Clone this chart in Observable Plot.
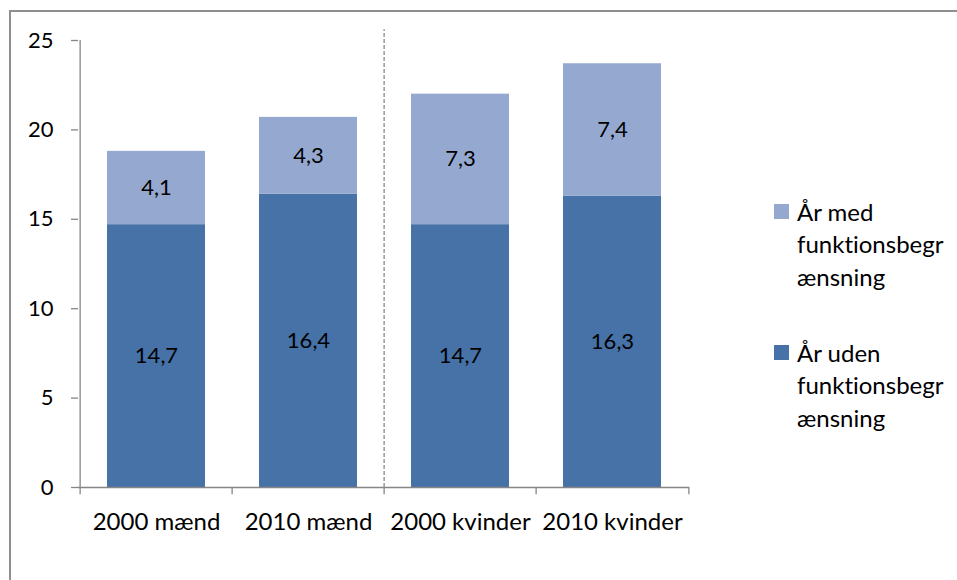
<!DOCTYPE html>
<html>
<head>
<meta charset="utf-8">
<script src="https://cdn.jsdelivr.net/npm/d3@7"></script>
<script src="https://cdn.jsdelivr.net/npm/@observablehq/plot@0.6"></script>
<style>
  html, body { margin: 0; padding: 0; background: #fff; overflow: hidden; }
  body { width: 957px; height: 580px; position: relative; font-family: Lato, "Open Sans", sans-serif; font-variant-ligatures: none; }
  #border { position: absolute; left: 9px; top: 10px; width: 1200px; height: 1000px; border-left: 2px solid #8f8f8f; border-top: 2px solid #8f8f8f; box-sizing: border-box; }
  #chart { position: absolute; left: 0; top: 0; }
  #chart svg text { font-variant-ligatures: none; }
  .leg { position: absolute; font-size: 24px; line-height: 32.5px; color: #000; white-space: nowrap; font-variant-ligatures: none; }
  .sw { position: absolute; width: 15px; height: 15px; }
</style>
</head>
<body>
<div id="border"></div>
<div id="chart"></div>
<div id="legend"></div>
<script>
const categories = ["2000 mænd", "2010 mænd", "2000 kvinder", "2010 kvinder"];
const seriesNames = ["År uden funktionsbegrænsning", "År med funktionsbegrænsning"];
const valuesUden = [14.7, 16.4, 14.7, 16.3];
const valuesMed = [4.1, 4.3, 7.3, 7.4];
const yTicks = [0, 5, 10, 15, 20, 25];
const seriesColors = ["#4672A8", "#95A9D0"];
const legendLines = [["År med", "funktionsbegr", "ænsning"], ["År uden", "funktionsbegr", "ænsning"]];
const dividerBefore = "2000 kvinder";

const rows = [];
categories.forEach((c, i) => {
  rows.push({cat: c, series: seriesNames[0], value: valuesUden[i]});
  rows.push({cat: c, series: seriesNames[1], value: valuesMed[i]});
});

const W = 700, H = 560, mL = 78, mR = 11, mT = 40, mB = 73;
const step = (W - mL - mR) / categories.length;
const fmt = v => d3.format(".1f")(v).replace(".", ",");
const axisColor = "#868686";

const plot = Plot.plot({
  width: W, height: H,
  marginLeft: mL, marginRight: mR, marginTop: mT, marginBottom: mB,
  style: {fontFamily: "Lato, 'Open Sans', sans-serif", fontSize: "22px", color: "#000", background: "transparent", overflow: "visible"},
  x: {domain: categories, paddingInner: 0.358, paddingOuter: 0.179, axis: null},
  y: {domain: [0, 25], axis: null},
  color: {domain: seriesNames, range: seriesColors},
  marks: [
    Plot.barY(rows, Plot.stackY({x: "cat", y: "value", fill: "series", order: null})),
    Plot.text(rows, Plot.stackY({x: "cat", y: "value", z: "series", text: d => fmt(d.value), fill: "#000", order: null})),
    // y axis line
    Plot.ruleX([categories[0]], {y1: 0, y2: 25, dx: -step / 2, stroke: axisColor, strokeWidth: 1.3}),
    Plot.axisY({ticks: yTicks, tickSize: 7, tickPadding: 18, label: null, stroke: axisColor, strokeOpacity: 1, strokeWidth: 1.3, tickFormat: d => String(d), fill: "#000"}),
    // x axis line
    Plot.ruleY([0], {stroke: axisColor, strokeWidth: 1.3}),
    // category boundary ticks
    Plot.ruleX(categories, {y1: 0, y2: -0.4, dx: -step / 2, stroke: axisColor, strokeWidth: 1.3}),
    Plot.ruleX([categories[categories.length - 1]], {y1: 0, y2: -0.4, dx: step / 2, stroke: axisColor, strokeWidth: 1.3}),
    // dashed divider
    Plot.ruleX([dividerBefore], {y1: 0, y2: 25.6, dx: -step / 2, stroke: "#8a8a8a", strokeWidth: 1.3, strokeDasharray: "4,2"}),
    // category labels
    Plot.text(categories, {x: d => d, y: 0, dy: 35, text: d => d, fill: "#000", fontSize: 24})
  ]
});
document.getElementById("chart").appendChild(plot);

// Legend
const legend = document.getElementById("legend");
const legendTops = [195.5, 336.5];
const legendOrder = [1, 0];
legendOrder.forEach((si, k) => {
  const sw = document.createElement("div");
  sw.className = "sw";
  sw.style.left = "774px";
  sw.style.top = (legendTops[k] + 8.5) + "px";
  sw.style.background = seriesColors[si];
  legend.appendChild(sw);
  const t = document.createElement("div");
  t.className = "leg";
  t.style.left = "797px";
  t.style.top = legendTops[k] + "px";
  t.innerHTML = legendLines[k].join("<br>");
  legend.appendChild(t);
});
</script>
</body>
</html>
